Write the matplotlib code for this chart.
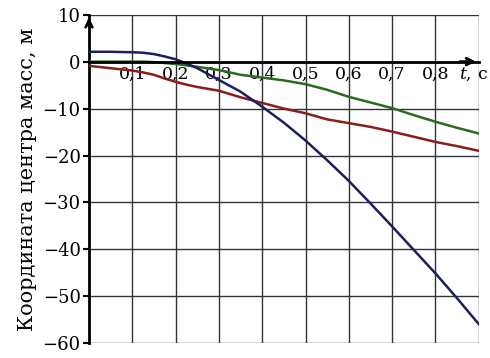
import matplotlib.pyplot as plt
import matplotlib.transforms as mtransforms

plt.rcParams['font.family'] = ['DejaVu Serif']
plt.rcParams['mathtext.fontset'] = 'dejavuserif'

# Данные
t = [0, 0.05, 0.1, 0.125, 0.15, 0.175, 0.2, 0.225, 0.25, 0.3, 0.35, 0.4,
     0.45, 0.5, 0.55, 0.6, 0.65, 0.7, 0.75, 0.8, 0.85, 0.9]
blue = [2.1, 2.1, 2.0, 1.9, 1.6, 1.1, 0.5, -0.4, -1.4, -3.9, -6.4, -9.6,
        -13.0, -16.8, -21.0, -25.4, -30.2, -35.1, -40.1, -45.1, -50.4, -55.9]
green = [0, 0, 0, 0, -0.1, -0.3, -0.5, -0.8, -1.1, -1.8, -2.8, -3.4,
         -4.0, -4.8, -6.0, -7.5, -8.7, -9.9, -11.4, -12.8, -14.1, -15.3]
red = [-0.9, -1.4, -1.9, -2.3, -2.8, -3.6, -4.3, -4.9, -5.4, -6.2, -7.6, -8.8,
       -10.0, -11.0, -12.3, -13.1, -13.9, -14.9, -16.0, -17.1, -18.0, -19.0]

x_ticks = [0, 0.1, 0.2, 0.3, 0.4, 0.5, 0.6, 0.7, 0.8, 0.9]
x_labels = ['', '0,1', '0,2', '0,3', '0,4', '0,5', '0,6', '0,7', '0,8', '$t$, c']
y_ticks = [10, 0, -10, -20, -30, -40, -50, -60]

fig = plt.figure(figsize=(4.9, 3.58), dpi=100)
ax = fig.add_axes([0.1816, 0.041, 0.7954, 0.918])

ax.plot(t, green, color='#2b6a1e', lw=1.8, zorder=3)
ax.plot(t, red, color='#8a1c1c', lw=1.8, zorder=3)
ax.plot(t, blue, color='#1c1f5c', lw=1.8, zorder=4)

ax.set_xlim(0, 0.9)
ax.set_ylim(-60, 10)
ax.set_xticks(x_ticks)
ax.set_xticklabels(x_labels)
ax.set_yticks(y_ticks)
ax.grid(True, color='#333333', lw=1.0)
ax.set_axisbelow(True)

# оси
for s in ['top', 'right']:
    ax.spines[s].set_visible(False)
ax.spines['bottom'].set_position(('data', 0))
ax.spines['bottom'].set_linewidth(2)
ax.spines['bottom'].set_zorder(5)
ax.spines['left'].set_linewidth(2)
ax.tick_params(axis='x', length=0, pad=3, labelsize=12.5)
ax.tick_params(axis='y', length=4, width=1.5, pad=2, labelsize=13)

# подпись t, c чуть левее, чтобы не обрезалась
lab = ax.get_xticklabels()[-1]
lab.set_transform(lab.get_transform() + mtransforms.ScaledTranslation(-5 / 100, 0, fig.dpi_scale_trans))

# стрелки
ax.annotate('', xy=(0.9, 0), xytext=(0.85, 0),
            arrowprops=dict(arrowstyle='->', lw=2, color='black', mutation_scale=12))
ax.annotate('', xy=(0, 10), xytext=(0, 7),
            arrowprops=dict(arrowstyle='->', lw=2, color='black', mutation_scale=12),
            annotation_clip=False)

ax.set_ylabel('Координата центра масс, м', fontsize=15, labelpad=4)

fig.savefig('out.png', dpi=100)
